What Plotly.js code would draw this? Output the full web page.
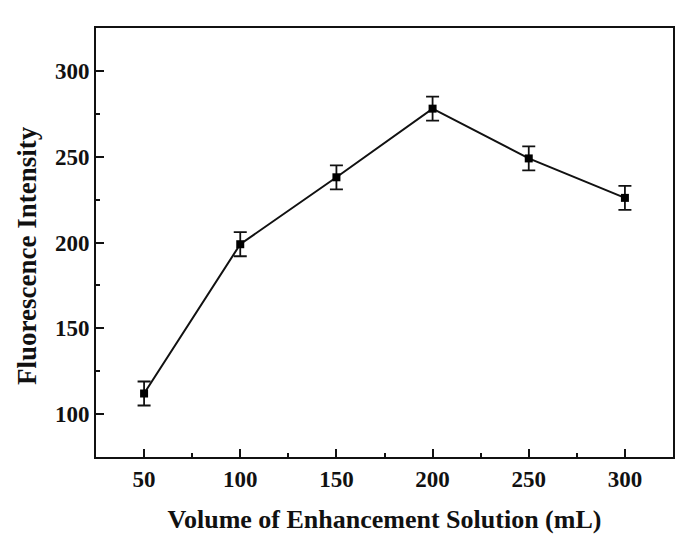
<!DOCTYPE html>
<html>
<head>
<meta charset="utf-8">
<script src="https://cdn.plot.ly/plotly-3.0.1.min.js"></script>
<style>html,body{margin:0;padding:0;background:#fff;}#chart{width:677px;height:537px;}</style>
</head>
<body>
<div id="chart"></div>
<script>
const volumes = [50, 100, 150, 200, 250, 300];
const intensity = [112, 199, 238, 278, 249, 226];
const errors = [7, 7, 7, 7, 7, 7];
const xTicks = [50, 100, 150, 200, 250, 300];
const yTicks = [100, 150, 200, 250, 300];

const font = {family: '"Liberation Serif", "Times New Roman", serif', color: '#111', size: 23};

const trace = {
  x: volumes, y: intensity, type: 'scatter', mode: 'lines+markers',
  line: {color: '#111', width: 2},
  marker: {symbol: 'square', size: 8, color: '#000'},
  error_y: {type: 'data', array: errors, visible: true, color: '#111', thickness: 1.8, width: 6.5}
};

const axisBase = {
  showgrid: false, zeroline: false, showline: true, linecolor: '#111', linewidth: 2,
  mirror: true, ticks: 'inside', ticklen: 8, tickwidth: 2, tickcolor: '#111',
  tickfont: Object.assign({}, font, {size: 23}),
  minor: {ticks: 'inside', ticklen: 4, tickwidth: 2, tickcolor: '#111', dtick: 25}
};

const layout = {
  width: 677, height: 537,
  margin: {l: 96, r: 4, t: 28, b: 80},
  paper_bgcolor: '#fff', plot_bgcolor: '#fff',
  showlegend: false,
  font: font,
  xaxis: Object.assign({}, axisBase, {
    range: [25, 325], tickmode: 'array', tickvals: xTicks, ticktext: xTicks.map(v => '<b>' + v + '</b>'),
    title: {text: '<b>Volume of Enhancement Solution (mL)</b>', font: Object.assign({}, font, {size: 26}), standoff: 19}
  }),
  yaxis: Object.assign({}, axisBase, {
    range: [75, 325], tickmode: 'array', tickvals: yTicks, ticktext: yTicks.map(v => '<b>' + v + '</b>')
  }),
  annotations: [{
    text: '<b>Fluorescence Intensity</b>', textangle: -90, showarrow: false,
    xref: 'paper', yref: 'paper', x: -0.1196, y: 0.471, xanchor: 'center', yanchor: 'middle',
    font: Object.assign({}, font, {size: 27})
  }]
};

Plotly.newPlot('chart', [trace], layout, {displayModeBar: false, staticPlot: true});
</script>
</body>
</html>
